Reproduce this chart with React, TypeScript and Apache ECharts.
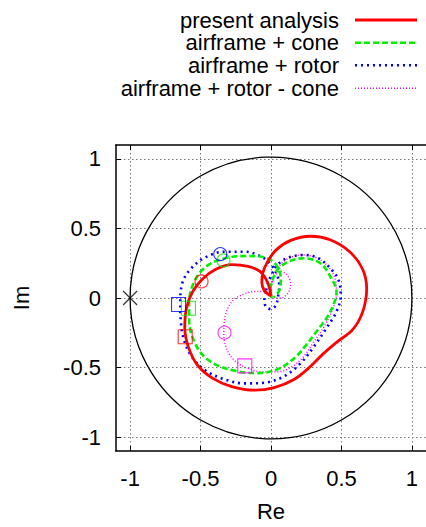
import React, { useEffect, useRef } from "react";
import * as echarts from "echarts";

const tickValues = [-1, -0.5, 0, 0.5, 1];
const seriesNames = ["present analysis", "airframe + cone", "airframe + rotor", "airframe + rotor - cone"];
const seriesColors = ["#ff0000", "#00f000", "#0000ff", "#ff00ff"];

const presentAnalysis: number[][] = [
  [0, 0.014], [-0.047, 0.053], [-0.065, 0.112], [-0.058, 0.181], [-0.023, 0.263], [0.035, 0.344],
  [0.14, 0.414], [0.279, 0.444], [0.419, 0.419], [0.558, 0.333], [0.651, 0.205], [0.679, 0.065],
  [0.651, -0.098], [0.581, -0.226], [0.465, -0.319], [0.372, -0.4], [0.279, -0.493], [0.163, -0.586],
  [0.023, -0.644], [-0.116, -0.663], [-0.279, -0.637], [-0.419, -0.574], [-0.523, -0.481], [-0.586, -0.353],
  [-0.612, -0.214], [-0.6, -0.074], [-0.558, 0.042], [-0.488, 0.135], [-0.395, 0.205], [-0.279, 0.24],
  [-0.163, 0.228], [-0.081, 0.193], [-0.035, 0.135], [-0.012, 0.077], [0, 0.014],
];

const airframeCone: number[][] = [
  [0.005, 0], [-0.005, 0.053], [0.005, 0.112], [0.047, 0.205], [0.128, 0.263], [0.233, 0.286],
  [0.349, 0.251], [0.419, 0.158], [0.465, 0.042], [0.442, -0.051], [0.395, -0.144], [0.326, -0.237],
  [0.256, -0.33], [0.163, -0.435], [0.047, -0.512], [-0.093, -0.54], [-0.233, -0.528], [-0.372, -0.488],
  [-0.477, -0.419], [-0.547, -0.307], [-0.581, -0.167], [-0.581, -0.028], [-0.547, 0.112], [-0.465, 0.223],
  [-0.326, 0.286], [-0.163, 0.302], [-0.047, 0.293], [0.035, 0.24], [0.07, 0.135], [0.058, 0.053],
  [0.019, 0.005],
];

const airframeRotor: number[][] = [
  [-0.035, 0.042], [-0.047, -0.016], [-0.035, -0.063], [0, -0.079], [0.035, -0.051], [0.051, 0.019],
  [0.058, 0.088], [0.042, 0.17], [0, 0.24], [-0.07, 0.298], [-0.186, 0.333], [-0.326, 0.333],
  [-0.465, 0.293], [-0.57, 0.209], [-0.628, 0.112], [-0.644, -0.028], [-0.64, -0.167], [-0.616, -0.307],
  [-0.558, -0.428], [-0.465, -0.521], [-0.326, -0.586], [-0.186, -0.614], [-0.047, -0.609], [0.093, -0.563],
  [0.209, -0.47], [0.302, -0.353], [0.395, -0.214], [0.465, -0.098], [0.495, 0.019], [0.477, 0.135],
  [0.419, 0.216], [0.337, 0.286], [0.233, 0.309], [0.128, 0.293], [0.047, 0.24], [0, 0.158],
  [-0.028, 0.088], [-0.035, 0.042],
];

const airframeRotorCone: number[][] = [
  [0, 0.007], [-0.047, 0.047], [-0.116, 0.047], [-0.186, 0.03], [-0.256, -0.005], [-0.302, -0.063],
  [-0.33, -0.156], [-0.335, -0.249], [-0.326, -0.33], [-0.291, -0.412], [-0.233, -0.47], [-0.163, -0.507],
  [-0.07, -0.53], [0.047, -0.53], [0.151, -0.493], [0.233, -0.419], [0.302, -0.319], [0.372, -0.214],
  [0.43, -0.098], [0.465, 0.03], [0.453, 0.147], [0.4, 0.233], [0.314, 0.293], [0.214, 0.309],
  [0.121, 0.284], [0.058, 0.228], [0.019, 0.147], [0, 0.065], [0.019, 0], [0.07, 0],
  [0.121, 0.037], [0.14, 0.1], [0.116, 0.163], [0.065, 0.193], [0.023, 0.147], [0, 0.065], [0, 0.007],
];

const circleMarkers: number[][] = [[-0.493, 0.119], [-0.337, 0.27], [-0.36, 0.316], [-0.33, -0.249]];
const squareMarkers: number[][] = [[-0.609, -0.279], [-0.586, -0.074], [-0.656, -0.047], [-0.186, -0.488]];
const criticalPoint: number[][] = [[-1, 0]];
const unitCircle: number[][] = [[0, 0, 1]];

const curves = [presentAnalysis, airframeCone, airframeRotor, airframeRotorCone];
const lineStyles: any[] = [
  { width: 2.8, type: "solid" },
  { width: 2.6, type: [6, 3] },
  { width: 2.6, type: [2, 4] },
  { width: 1.5, type: [1, 2] },
];

const FONT = "Liberation Sans, Arial, sans-serif";

export default function App() {
  const ref = useRef<HTMLDivElement>(null);
  useEffect(() => {
    if (!ref.current) return;
    const chart = echarts.init(ref.current, null, { renderer: "svg" });
    const gridL = 116, gridT = 145, gridW = 315, gridH = 316;

    const axisCommon = {
      type: "value",
      min: -1.1,
      max: 1.1,
      axisLine: { show: true, onZero: false, lineStyle: { color: "#000", width: 1.5 } },
      axisTick: { show: true, inside: true, length: 5, customValues: tickValues, lineStyle: { color: "#000", width: 1 } },
      axisLabel: { show: true, customValues: tickValues, color: "#000", fontSize: 22, fontFamily: FONT },
      splitLine: { show: true, lineStyle: { color: "#777", type: [1.5, 2.5], width: 1 } },
    };

    const series: any[] = [
      {
        type: "custom",
        coordinateSystem: "cartesian2d",
        data: unitCircle,
        silent: true,
        z: 1,
        renderItem: (params: any, api: any) => {
          const c = api.coord([api.value(0), api.value(1)]);
          const r = api.size([api.value(2), 0])[0];
          return {
            type: "circle",
            shape: { cx: c[0], cy: c[1], r },
            style: { fill: "none", stroke: "#000", lineWidth: 1.3 },
          };
        },
      },
    ];
    curves.forEach((d, i) => {
      series.push({
        name: seriesNames[i],
        type: "line",
        data: d,
        showSymbol: false,
        smooth: 0.35,
        z: 5 - i + 2,
        lineStyle: { color: seriesColors[i], ...lineStyles[i] },
      });
    });
    seriesColors.forEach((col, i) => {
      series.push({
        type: "scatter",
        data: [circleMarkers[i]],
        symbol: "circle",
        symbolSize: 13,
        z: 10,
        itemStyle: { color: "rgba(255,255,255,0)", borderColor: col, borderWidth: 1.1 },
      });
      series.push({
        type: "scatter",
        data: [squareMarkers[i]],
        symbol: "rect",
        symbolSize: 14,
        z: 10,
        itemStyle: { color: "rgba(255,255,255,0)", borderColor: col, borderWidth: 1.1 },
      });
    });
    series.push({
      type: "scatter",
      data: criticalPoint,
      symbol: "path://M0,0L10,10M10,0L0,10",
      symbolSize: 14,
      z: 10,
      itemStyle: { color: "rgba(255,255,255,0)", borderColor: "#000", borderWidth: 1.2 },
    });

    const legendRows = [20, 42.7, 65.3, 88.3];
    const graphic: any[] = [];
    seriesNames.forEach((n, i) => {
      graphic.push({
        type: "text",
        x: 339,
        y: legendRows[i],
        style: { text: n, fill: "#000", fontSize: 22, fontFamily: FONT, textAlign: "right", textVerticalAlign: "middle" },
      });
      graphic.push({
        type: "line",
        shape: { x1: 355, y1: legendRows[i], x2: 417, y2: legendRows[i] },
        style: { stroke: seriesColors[i], lineWidth: lineStyles[i].width, lineDash: lineStyles[i].type === "solid" ? null : lineStyles[i].type },
      });
    });

    chart.setOption({
      animation: false,
      backgroundColor: "#fff",
      grid: { left: gridL, top: gridT, width: gridW, height: gridH, containLabel: false },
      xAxis: [
        {
          ...axisCommon,
          position: "bottom",
          name: "Re",
          nameLocation: "middle",
          nameGap: 49,
          nameTextStyle: { color: "#000", fontSize: 22, fontFamily: FONT },
          axisLabel: { ...axisCommon.axisLabel, margin: 16 },
        },
        {
          ...axisCommon,
          position: "top",
          axisLabel: { show: false },
          splitLine: { show: false },
        },
      ],
      yAxis: [
        {
          ...axisCommon,
          position: "left",
          name: "Im",
          nameLocation: "middle",
          nameGap: 84,
          nameTextStyle: { color: "#000", fontSize: 22, fontFamily: FONT },
          axisLabel: { ...axisCommon.axisLabel, margin: 15 },
        },
      ],
      graphic,
      series,
    });
    return () => chart.dispose();
  }, []);
  return <div ref={ref} style={{ position: "absolute", left: 0, top: 0, width: 426, height: 527 }} />;
}
